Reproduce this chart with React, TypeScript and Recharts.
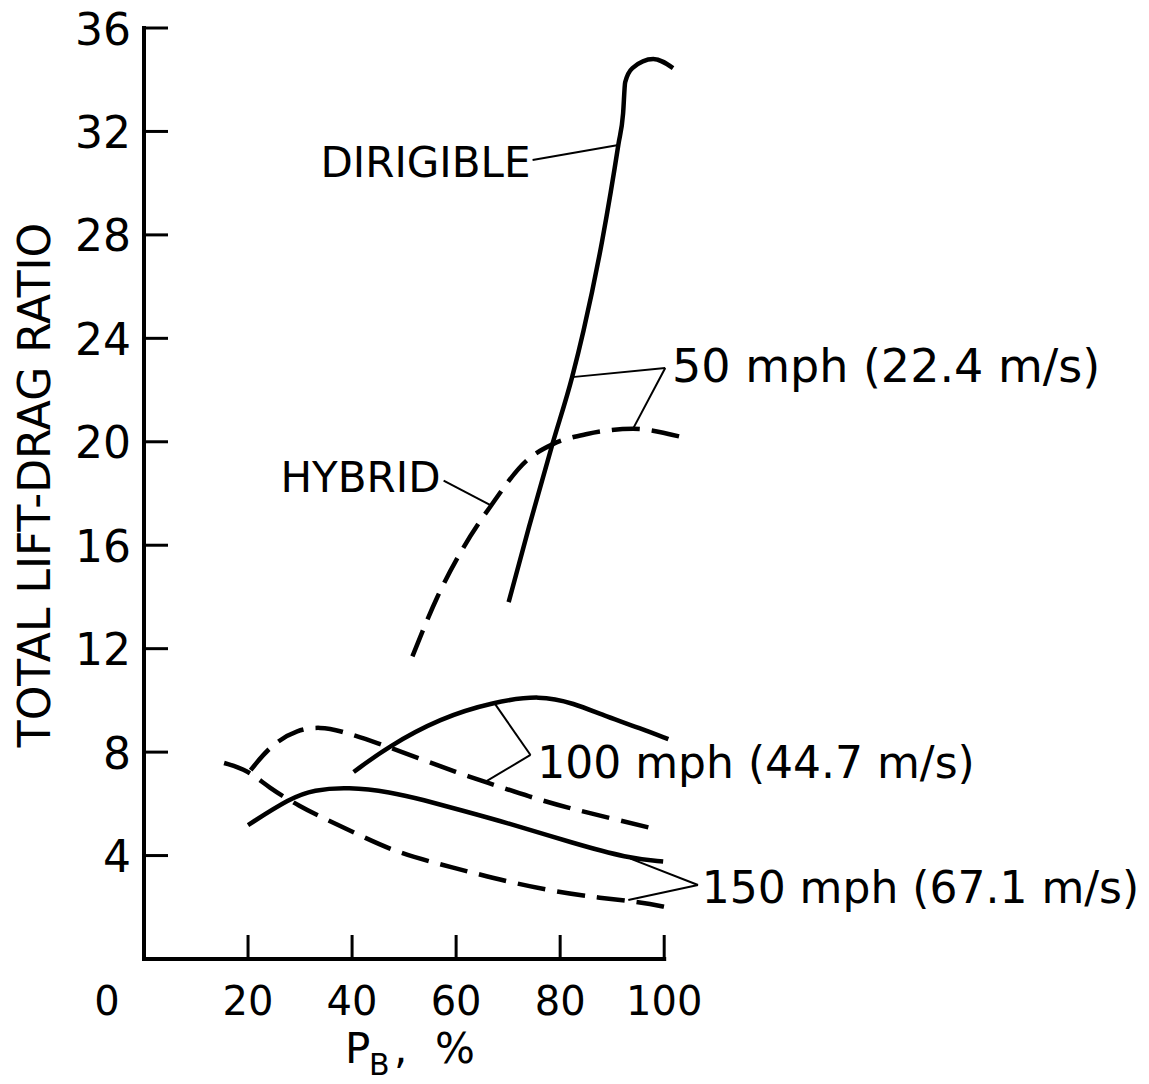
import React from 'react';
import { LineChart, Line, XAxis, YAxis, ReferenceLine, ReferenceDot } from 'recharts';

type Pt = { x: number; y: number };
const toPts = (a: number[][]): Pt[] => a.map(([x, y]) => ({ x, y }));

const xTicks = [0, 20, 40, 60, 80, 100];
const yTicks = [4, 8, 12, 16, 20, 24, 28, 32, 36];

// 50 mph
const dirigible50 = [
  [70.1, 13.8], [74, 16.7], [78.5, 19.9], [82.3, 22.5], [84.5, 24.3], [88.1, 27.8],
  [91.2, 31.5], [92.1, 32.7], [92.5, 33.9], [93.9, 34.45], [97.9, 34.8], [101.7, 34.45],
];
const hybrid50 = [
  [51.6, 11.7], [56.4, 14.0], [60.8, 15.7], [66.6, 17.5], [73.7, 19.3], [78.5, 19.9],
  [85.2, 20.3], [94, 20.5], [103, 20.2],
];
// 100 mph
const dirigible100 = [
  [40.3, 7.23], [46.8, 8.2], [57, 9.32], [67.2, 9.94], [76.2, 10.2], [82.5, 9.9],
  [89, 9.36], [95.4, 8.93], [100.8, 8.5],
];
const hybrid100 = [
  [20.5, 7.3], [24.4, 8.28], [29.6, 8.89], [34, 8.97], [37.4, 8.85], [44.9, 8.35],
  [52.8, 7.77], [60.3, 7.2], [65.6, 6.85], [74.3, 6.26], [81.6, 5.84], [89.6, 5.45], [98.8, 5.0],
];
// 150 mph
const dirigible150 = [
  [20, 5.18], [28.2, 6.23], [32.6, 6.54], [39.2, 6.65], [47.4, 6.46], [53.7, 6.15],
  [60.8, 5.76], [69.9, 5.26], [82.5, 4.48], [92.9, 3.9], [99.8, 3.77],
];
const hybrid150 = [
  [15.4, 7.58], [20, 7.3], [23.8, 6.65], [30.1, 5.88], [34.5, 5.45], [41.3, 4.8],
  [48.4, 4.14], [56, 3.71], [63.3, 3.33], [71, 2.94], [79.5, 2.59], [87.7, 2.36],
  [95.4, 2.2], [100.6, 2.0],
];

const seriesList = [dirigible50, hybrid50, dirigible100, hybrid100, dirigible150, hybrid150];
const seriesDashed = [false, true, false, true, false, true];
const seriesCurve = ['monotone', 'monotone', 'basis', 'basis', 'basis', 'basis'];

// annotation leaders (data coordinates)
const leaders = [
  [[74.7, 30.9], [91.2, 31.48]],
  [[82.3, 22.5], [100.2, 22.85]],
  [[100.2, 22.85], [94, 20.5]],
  [[57.6, 18.5], [66.6, 17.55]],
  [[67.2, 9.94], [74.3, 7.89]],
  [[74.3, 7.89], [65.6, 6.85]],
  [[93.5, 3.88], [106.5, 2.86]],
  [[106.5, 2.86], [93.1, 2.28]],
];

const noteTexts = ['DIRIGIBLE', 'HYBRID', '50 mph (22.4 m/s)', '100 mph (44.7 m/s)', '150 mph (67.1 m/s)'];
const noteX = [74.3, 57.0, 101.5, 75.6, 107.2];
const noteY = [30.8, 18.6, 22.93, 7.6, 2.75];
const noteAnchor = ['end', 'end', 'start', 'start', 'start'];
const noteSize = [42, 42, 46, 44, 44];

const FONT = '"DejaVu Sans", sans-serif';

const XTick = (props: any) => {
  const { x, y, payload } = props;
  const v = payload.value;
  return (
    <g>
      {v !== 0 && <line x1={x} y1={y} x2={x} y2={y - 24} stroke="#000" strokeWidth={3} />}
      <text
        x={v === 0 ? x - 37 : x}
        y={y + 42}
        textAnchor="middle"
        dominantBaseline="central"
        fontSize={40}
        fontFamily={FONT}
        fill="#000"
      >
        {v}
      </text>
    </g>
  );
};

const YTick = (props: any) => {
  const { x, y, payload } = props;
  return (
    <g>
      <line x1={x} y1={y} x2={x + 24} y2={y} stroke="#000" strokeWidth={3} />
      <text
        x={x - 13}
        y={y + 1}
        textAnchor="end"
        dominantBaseline="central"
        fontSize={44}
        fontFamily={FONT}
        fill="#000"
      >
        {payload.value}
      </text>
    </g>
  );
};

const XTitle = (props: any) => {
  const vb = props.viewBox || { x: 136, y: 951 };
  const bx = vb.x;
  const by = vb.y + 104;
  return (
    <text fontFamily={FONT} fill="#000">
      <tspan x={bx + 201} y={by} fontSize={42}>P</tspan>
      <tspan x={bx + 225} y={by + 12} fontSize={30}>B</tspan>
      <tspan x={bx + 250} y={by} fontSize={42}>,</tspan>
      <tspan x={bx + 291} y={by} fontSize={42}>%</tspan>
    </text>
  );
};

const YTitle = (props: any) => {
  const vb = props.viewBox || { x: 0, y: 20 };
  const cx = vb.x + 26;
  const cy = vb.y + 457;
  return (
    <text
      x={cx}
      y={cy}
      transform={`rotate(-90 ${cx} ${cy})`}
      textAnchor="middle"
      dominantBaseline="central"
      fontSize={44}
      fontFamily={FONT}
      fill="#000"
    >
      TOTAL LIFT-DRAG RATIO
    </text>
  );
};

export default function App() {
  return (
    <div style={{ width: 1141, height: 1076, background: '#fff' }}>
      <LineChart width={1141} height={1076} margin={{ top: 20, right: 464, bottom: 0, left: 0 }}>
        <XAxis
          type="number"
          dataKey="x"
          domain={[0, 104]}
          ticks={xTicks}
          interval={0}
          axisLine={false}
          tickLine={false}
          tickSize={0}
          tickMargin={0}
          height={125}
          tick={XTick}
          label={{ content: XTitle }}
        />
        <YAxis
          type="number"
          domain={[0, 36]}
          ticks={yTicks}
          interval={0}
          width={136}
          axisLine={false}
          tickLine={false}
          tickSize={0}
          tickMargin={0}
          tick={YTick}
          label={{ content: YTitle }}
        />
        <ReferenceLine segment={[{ x: 0, y: 0 }, { x: 0, y: 36 }]} stroke="#000" strokeWidth={4} strokeLinecap="square" ifOverflow="visible" />
        <ReferenceLine segment={[{ x: 0, y: 0 }, { x: 100, y: 0 }]} stroke="#000" strokeWidth={4} strokeLinecap="square" ifOverflow="visible" />
        {seriesList.map((s, i) => (
          <Line
            key={`s${i}`}
            data={toPts(s)}
            dataKey="y"
            type={seriesCurve[i] as any}
            stroke="#000"
            strokeWidth={4.5}
            strokeDasharray={seriesDashed[i] ? '28 12' : undefined}
            dot={false}
            activeDot={false}
            isAnimationActive={false}
          />
        ))}
        {leaders.map((seg, i) => (
          <ReferenceLine
            key={`l${i}`}
            segment={[{ x: seg[0][0], y: seg[0][1] }, { x: seg[1][0], y: seg[1][1] }]}
            stroke="#000"
            strokeWidth={2}
            ifOverflow="visible"
          />
        ))}
        {noteTexts.map((t, i) => (
          <ReferenceDot
            key={`n${i}`}
            x={noteX[i]}
            y={noteY[i]}
            r={0}
            ifOverflow="visible"
            shape={(p: any) => (
              <text
                x={p.cx}
                y={p.cy}
                textAnchor={noteAnchor[i] as any}
                dominantBaseline="central"
                fontSize={noteSize[i]}
                fontFamily={FONT}
                fill="#000"
              >
                {t}
              </text>
            )}
          />
        ))}
      </LineChart>
    </div>
  );
}
